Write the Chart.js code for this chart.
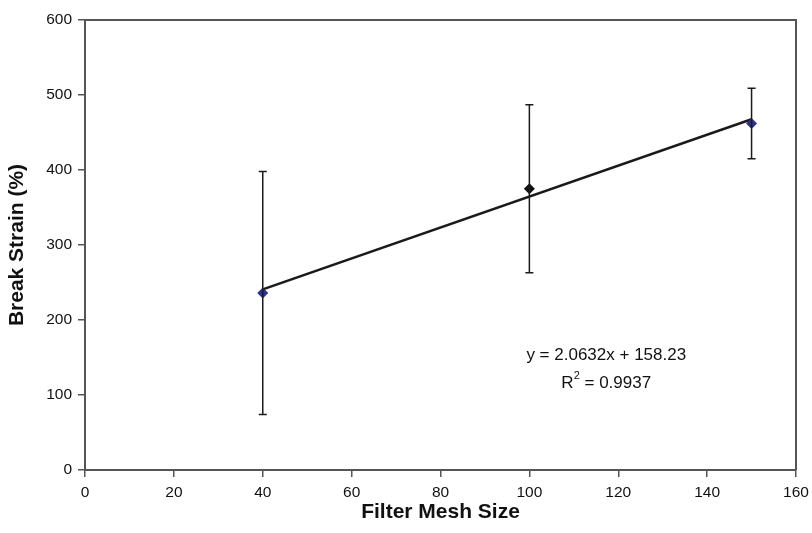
<!DOCTYPE html>
<html>
<head>
<meta charset="utf-8">
<script src="https://cdn.jsdelivr.net/npm/chart.js@4/dist/chart.umd.min.js"></script>
<style>
html,body{margin:0;padding:0;background:#fff;}
#wrap{width:812px;height:533px;}
</style>
</head>
<body>
<div id="wrap"><canvas id="c" width="812" height="533"></canvas></div>
<script>
// Data
const meshSizes = [40, 100, 150];
const breakStrain = [236, 375, 462];
const errorPlus = [162, 112, 47];
const errorMinus = [162, 112, 47];
const pointColors = ['#2e3192', '#111111', '#2e3192'];
const trendX = [40, 150];
const trendY = [240.8, 467.7];
const xTicks = [0, 20, 40, 60, 80, 100, 120, 140, 160];
const yTicks = [0, 100, 200, 300, 400, 500, 600];
const equationText = 'y = 2.0632x + 158.23';
const r2Label = 'R';
const r2Value = ' = 0.9937';

const FONT = '"Liberation Sans", Arial, sans-serif';

const errorBarPlugin = {
  id: 'errorBars',
  afterDatasetsDraw(chart) {
    const ctx = chart.ctx;
    const xs = chart.scales.x, ys = chart.scales.y;
    ctx.save();
    ctx.strokeStyle = '#1a1a1a';
    ctx.lineWidth = 1.5;
    meshSizes.forEach((m, i) => {
      const px = xs.getPixelForValue(m);
      const top = ys.getPixelForValue(breakStrain[i] + errorPlus[i]);
      const bot = ys.getPixelForValue(breakStrain[i] - errorMinus[i]);
      ctx.beginPath();
      ctx.moveTo(px, top); ctx.lineTo(px, bot);
      ctx.moveTo(px - 4, top); ctx.lineTo(px + 4, top);
      ctx.moveTo(px - 4, bot); ctx.lineTo(px + 4, bot);
      ctx.stroke();
    });
    ctx.restore();
  }
};

const frameAndTextPlugin = {
  id: 'frameAndText',
  afterDraw(chart) {
    const ctx = chart.ctx;
    const a = chart.chartArea;
    ctx.save();
    ctx.strokeStyle = '#555555';
    ctx.lineWidth = 2;
    ctx.beginPath();
    ctx.moveTo(a.left, a.top); ctx.lineTo(a.right, a.top); ctx.lineTo(a.right, a.bottom);
    ctx.stroke();
    // equation annotation
    const cx = chart.scales.x.getPixelForValue(117.3);
    ctx.fillStyle = '#111';
    ctx.font = '17px ' + FONT;
    ctx.textAlign = 'center';
    ctx.textBaseline = 'middle';
    const y1 = chart.scales.y.getPixelForValue(153);
    const y2 = chart.scales.y.getPixelForValue(116);
    ctx.fillText(equationText, cx, y1);
    const wR = ctx.measureText(r2Label).width;
    ctx.font = '11px ' + FONT;
    const wS = ctx.measureText('2').width;
    ctx.font = '17px ' + FONT;
    const wV = ctx.measureText(r2Value).width;
    const total = wR + wS + wV;
    let sx = cx - total / 2;
    ctx.textAlign = 'left';
    ctx.fillText(r2Label, sx, y2);
    ctx.font = '11px ' + FONT;
    ctx.fillText('2', sx + wR, y2 - 7);
    ctx.font = '17px ' + FONT;
    ctx.fillText(r2Value, sx + wR + wS, y2);
    ctx.restore();
  }
};

new Chart(document.getElementById('c'), {
  type: 'scatter',
  data: {
    datasets: [
      {
        label: 'Trend',
        type: 'line',
        data: trendX.map((x, i) => ({x: x, y: trendY[i]})),
        borderColor: '#1a1a1a',
        borderWidth: 2.5,
        pointRadius: 0,
        fill: false,
        order: 2
      },
      {
        label: 'Break Strain',
        data: meshSizes.map((x, i) => ({x: x, y: breakStrain[i]})),
        pointStyle: 'rectRot',
        pointRadius: 5.5,
        pointBackgroundColor: pointColors,
        pointBorderColor: pointColors,
        pointBorderWidth: 0,
        order: 1
      }
    ]
  },
  options: {
    responsive: false,
    animation: false,
    layout: {padding: {left: 0, top: 20, right: 16, bottom: 0}},
    plugins: {legend: {display: false}, tooltip: {enabled: false}},
    scales: {
      x: {
        type: 'linear', min: 0, max: 160,
        afterBuildTicks(s) { s.ticks = xTicks.map(v => ({value: v})); },
        afterFit(s) { s.height = 63; s.paddingLeft = 0; s.paddingRight = 0; },
        grid: {drawOnChartArea: false, drawTicks: true, tickLength: 7, color: '#555', lineWidth: 1.5},
        border: {color: '#555', width: 2},
        ticks: {color: '#111', font: {family: FONT, size: 15.5}, padding: 6, maxRotation: 0},
        title: {display: true, text: 'Filter Mesh Size', color: '#111', font: {family: FONT, size: 21, weight: 'bold'}, padding: {top: 0, bottom: 8}}
      },
      y: {
        type: 'linear', min: 0, max: 600,
        afterBuildTicks(s) { s.ticks = yTicks.map(v => ({value: v})); },
        afterFit(s) { s.width = 85; s.paddingTop = 0; s.paddingBottom = 0; },
        grid: {drawOnChartArea: false, drawTicks: true, tickLength: 7, color: '#555', lineWidth: 1.5},
        border: {color: '#555', width: 2},
        ticks: {color: '#111', font: {family: FONT, size: 15.5}, padding: 6},
        title: {display: true, text: 'Break Strain (%)', color: '#111', font: {family: FONT, size: 21, weight: 'bold'}, padding: {top: 5, bottom: 0}}
      }
    }
  },
  plugins: [errorBarPlugin, frameAndTextPlugin]
});
</script>
</body>
</html>
